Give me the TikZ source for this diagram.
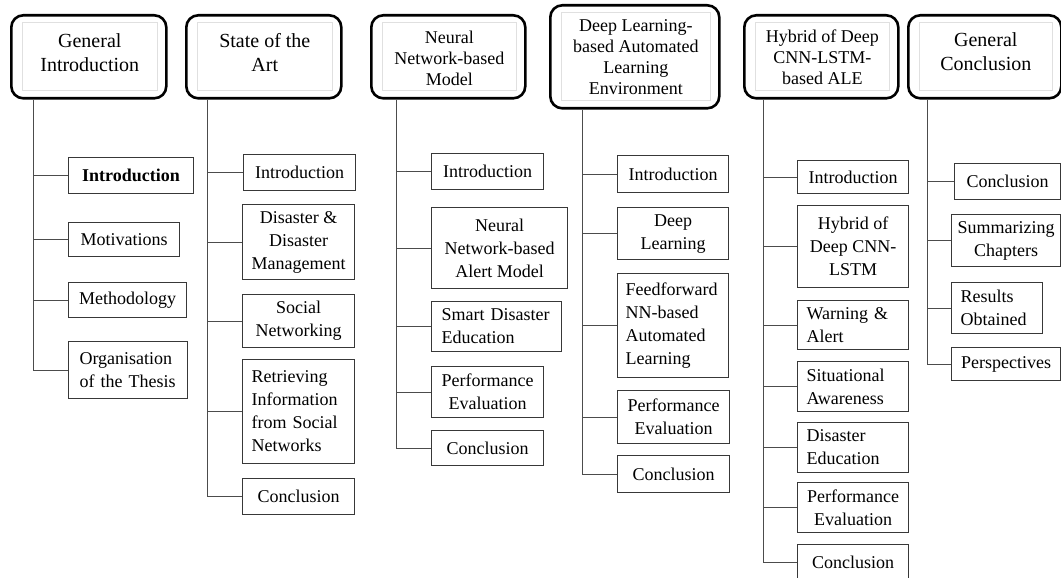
\documentclass[tikz,border=0pt]{standalone}
\usepackage{fontspec}
\setmainfont{Liberation Serif}
\begin{document}
\begin{tikzpicture}[x=1pt,y=-1pt,
  hdr/.style={draw=black, line width=2.6pt, rounded corners=12pt, inner sep=0pt, anchor=north west},
  htext/.style={inner sep=0pt, align=center},
  hbig/.style={htext, font=\fontsize{20}{24}\selectfont},
  hsmall/.style={htext, font=\fontsize{18}{21}\selectfont},
  innerframe/.style={draw=black!12, line width=0.8pt},
  cbox/.style={draw=black!78, line width=1.1pt, inner sep=0pt, anchor=north west, font=\fontsize{18}{23}\selectfont},
  ctr/.style={align=center},
  lft/.style={align=left, text width=#1},
  conn/.style={draw=black!70, line width=1pt}
]
\fill[white] (0,0) rectangle (1061,578);
\useasboundingbox (0,0) rectangle (1061,578);

% chapter headers: frame, light inner frame, title
\node[hdr, minimum width=155, minimum height=83]  (h1) at (10,14)  {};
\node[hdr, minimum width=155, minimum height=83]  (h2) at (185,14) {};
\node[hdr, minimum width=154, minimum height=83]  (h3) at (370,14) {};
\node[hdr, minimum width=169, minimum height=103] (h4) at (549,4)  {};
\node[hdr, minimum width=154, minimum height=83]  (h5) at (743,14) {};
\node[hdr, minimum width=153, minimum height=83]  (h6) at (907,14) {};
\foreach \h in {h1,h2,h3,h4,h5,h6}
  \draw[innerframe] ([shift={(12,8)}]\h.north west) rectangle ([shift={(-10,-9)}]\h.south east);

% titles (y grows downwards in this picture)
\node[hbig]   (t1) at ([shift={(1,-4)}]h1.center) {General\\Introduction};
\node[hbig]   (t2) at ([shift={(1,-4)}]h2.center) {State of the\\Art};
\node[hsmall] (t3) at ([shift={(1,2)}]h3.center) {Neural\\Network-based\\Model};
\node[hsmall] (t4) at ([shift={(1,0)}]h4.center) {Deep Learning-\\based Automated\\Learning\\Environment};
\node[hsmall] (t5) at ([shift={(1,0)}]h5.center) {Hybrid of Deep\\CNN-LSTM-\\based ALE};
\node[hbig]   (t6) at ([shift={(1,-5)}]h6.center) {General\\Conclusion};

% chapter 1
\node[cbox, ctr, minimum width=125, minimum height=36] (c11) at (68,157) {\bfseries Introduction};
\node[cbox, ctr, minimum width=111, minimum height=34] (c12) at (68,222) {Motivations};
\node[cbox, ctr, minimum width=118, minimum height=35] (c13) at (68,282) {Methodology};
\node[cbox, lft=97, minimum width=119, minimum height=57] (c14) at (68,341) {Organisation\\of the Thesis};

% chapter 2
\node[cbox, ctr, minimum width=112, minimum height=36] (c21) at (243,154) {Introduction};
\node[cbox, ctr, minimum width=112, minimum height=75] (c22) at (242,204) {Disaster \&\\Disaster\\Management};
\node[cbox, ctr, minimum width=112, minimum height=53] (c23) at (242,294) {Social\\Networking};
\node[cbox, lft=94, minimum width=112, minimum height=104] (c24) at (242,359) {Retrieving\\Information\\from Social\\Networks};
\node[cbox, ctr, minimum width=112, minimum height=36] (c25) at (242,478) {Conclusion};

% chapter 3
\node[cbox, ctr, minimum width=112, minimum height=36] (c31) at (431,153) {Introduction};
\node[cbox, ctr, minimum width=136, minimum height=81] (c32) at (431,207) {Neural\\Network-based\\Alert Model};
\node[cbox, lft=110, minimum width=130, minimum height=50] (c33) at (431,301) {Smart Disaster\\Education};
\node[cbox, ctr, minimum width=112, minimum height=51] (c34) at (431,366) {Performance\\Evaluation};
\node[cbox, ctr, minimum width=112, minimum height=35] (c35) at (431,430) {Conclusion};

% chapter 4
\node[cbox, ctr, minimum width=111, minimum height=37] (c41) at (617,155) {Introduction};
\node[cbox, ctr, minimum width=111, minimum height=52] (c42) at (617,207) {Deep\\Learning};
\node[cbox, lft=95, minimum width=111, minimum height=104] (c43) at (617,273) {Feedforward\\NN-based\\Automated\\Learning};
\node[cbox, ctr, minimum width=112, minimum height=53] (c44) at (617,390) {Performance\\Evaluation};
\node[cbox, ctr, minimum width=112, minimum height=37] (c45) at (617,455) {Conclusion};

% chapter 5
\node[cbox, ctr, minimum width=111, minimum height=33] (c51) at (797,160) {Introduction};
\node[cbox, ctr, minimum width=111, minimum height=82] (c52) at (797,205) {Hybrid of\\Deep CNN-\\LSTM};
\node[cbox, lft=93, minimum width=111, minimum height=49] (c53) at (797,300) {Warning \&\\Alert};
\node[cbox, lft=93, minimum width=111, minimum height=50] (c54) at (797,361) {Situational\\Awareness};
\node[cbox, lft=93, minimum width=111, minimum height=50] (c55) at (797,422) {Disaster\\Education};
\node[cbox, ctr, minimum width=111, minimum height=50] (c56) at (797,482) {Performance\\Evaluation};
\node[cbox, ctr, minimum width=111, minimum height=36] (c57) at (797,544) {Conclusion};

% chapter 6
\node[cbox, ctr, minimum width=106, minimum height=36] (c61) at (954,163) {Conclusion};
\node[cbox, ctr, minimum width=109, minimum height=52] (c62) at (951,214) {Summarizing\\Chapters};
\node[cbox, lft=73, minimum width=91, minimum height=51] (c63) at (951,282) {Results\\Obtained};
\node[cbox, ctr, minimum width=109, minimum height=33] (c64) at (951,347) {Perspectives};

% trunks hanging from each header
\path (h1.south west) ++(23,0) coordinate (k1);
\path (h2.south west) ++(22,0) coordinate (k2);
\path (h3.south west) ++(26,0) coordinate (k3);
\path (h4.south west) ++(33,0) coordinate (k4);
\path (h5.south west) ++(20,0) coordinate (k5);
\path (h6.south west) ++(20,0) coordinate (k6);

\draw[conn] (k1) |- (c14.west);
\foreach \c in {c11,c12,c13} \draw[conn] (k1 |- \c.west) -- (\c.west);
\draw[conn] (k2) |- (c25.west);
\foreach \c in {c21,c22,c23,c24} \draw[conn] (k2 |- \c.west) -- (\c.west);
\draw[conn] (k3) |- (c35.west);
\foreach \c in {c31,c32,c33,c34} \draw[conn] (k3 |- \c.west) -- (\c.west);
\draw[conn] (k4) |- (c45.west);
\foreach \c in {c41,c42,c43,c44} \draw[conn] (k4 |- \c.west) -- (\c.west);
\draw[conn] (k5) |- (c57.west);
\foreach \c in {c51,c52,c53,c54,c55,c56} \draw[conn] (k5 |- \c.west) -- (\c.west);
\draw[conn] (k6) |- (c64.west);
\foreach \c in {c61,c62,c63} \draw[conn] (k6 |- \c.west) -- (\c.west);
\end{tikzpicture}
\end{document}
